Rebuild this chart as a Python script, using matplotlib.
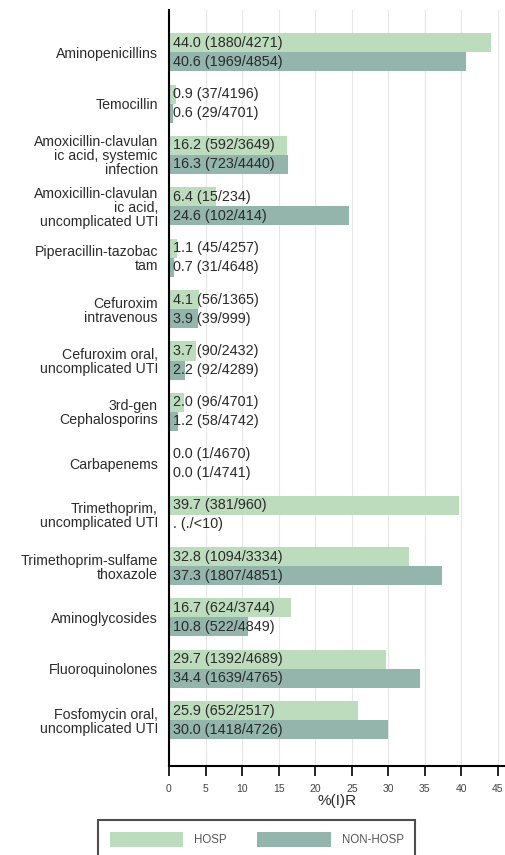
import numpy as np
import matplotlib.pyplot as plt
from matplotlib.patches import Patch

plt.rcParams['font.family'] = ['Liberation Sans', 'DejaVu Sans']

categories = [
    'Aminopenicillins',
    'Temocillin',
    'Amoxicillin-clavulan\nic acid, systemic\ninfection',
    'Amoxicillin-clavulan\nic acid,\nuncomplicated UTI',
    'Piperacillin-tazobac\ntam',
    'Cefuroxim\nintravenous',
    'Cefuroxim oral,\nuncomplicated UTI',
    '3rd-gen\nCephalosporins',
    'Carbapenems',
    'Trimethoprim,\nuncomplicated UTI',
    'Trimethoprim-sulfame\nthoxazole',
    'Aminoglycosides',
    'Fluoroquinolones',
    'Fosfomycin oral,\nuncomplicated UTI',
]

hosp_pct = [44.0, 0.9, 16.2, 6.4, 1.1, 4.1, 3.7, 2.0, 0.0, 39.7, 32.8, 16.7, 29.7, 25.9]
hosp_n = ['1880/4271', '37/4196', '592/3649', '15/234', '45/4257', '56/1365', '90/2432',
          '96/4701', '1/4670', '381/960', '1094/3334', '624/3744', '1392/4689', '652/2517']

nonhosp_pct = [40.6, 0.6, 16.3, 24.6, 0.7, 3.9, 2.2, 1.2, 0.0, np.nan, 37.3, 10.8, 34.4, 30.0]
nonhosp_n = ['1969/4854', '29/4701', '723/4440', '102/414', '31/4648', '39/999', '92/4289',
             '58/4742', '1/4741', './<10', '1807/4851', '522/4849', '1639/4765', '1418/4726']

c_hosp = '#bddcbd'
c_nonhosp = '#93b5ab'

fig = plt.figure(figsize=(5.06, 8.55), dpi=100)
ax = fig.add_axes([169 / 506, 1 - 766 / 855, 1 - 169 / 506, (766 - 10) / 855])

y = np.arange(len(categories))
h = 0.37

def label(v, n):
    if np.isnan(v):
        return f'. ({n})'
    return f'{v:.1f} ({n})'

ax.barh(y - h / 2, np.nan_to_num(hosp_pct), height=h, color=c_hosp, zorder=2)
ax.barh(y + h / 2, np.nan_to_num(nonhosp_pct), height=h, color=c_nonhosp, zorder=2)

for i in range(len(categories)):
    ax.text(0.6, y[i] - h / 2, label(hosp_pct[i], hosp_n[i]), va='center', ha='left',
            fontsize=10.4, color='#2b2b2b', zorder=3)
    ax.text(0.6, y[i] + h / 2, label(nonhosp_pct[i], nonhosp_n[i]), va='center', ha='left',
            fontsize=10.4, color='#2b2b2b', zorder=3)

ax.set_yticks(y)
ax.set_yticklabels(categories, fontsize=10.2, color='#2b2b2b', linespacing=1.0,
                   multialignment='right')
ax.tick_params(axis='y', length=0, pad=8)
ax.set_ylim(len(categories) - 1 + 0.89, -0.82)

ax.set_xlim(0, 46.1)
ax.set_xticks(np.arange(0, 50, 5))
ax.tick_params(axis='x', length=7, width=1.2, labelsize=7.5, labelcolor='#444444', pad=6)
ax.grid(axis='x', color='#e6e6e6', linewidth=0.8, zorder=0)
ax.set_xlabel('%(I)R', fontsize=11, color='#2b2b2b', labelpad=0)

for s in ['top', 'right']:
    ax.spines[s].set_visible(False)
ax.spines['left'].set_linewidth(1.5)
ax.spines['bottom'].set_linewidth(1.5)

# legend box runs off the bottom edge of the figure
handles = [Patch(facecolor=c_hosp, edgecolor='none', label='HOSP'),
           Patch(facecolor=c_nonhosp, edgecolor='none', label='NON-HOSP')]
leg = fig.legend(handles=handles, loc='upper left', bbox_to_anchor=(98 / 506, 1 - 820 / 855),
                 ncol=2, fontsize=8.3, handlelength=6.35, handleheight=1.74,
                 handletextpad=0.95, columnspacing=2.7, borderpad=1.0, borderaxespad=0,
                 frameon=True, fancybox=False)
leg.get_frame().set_edgecolor('#222222')
leg.get_frame().set_linewidth(1.5)
for t in leg.get_texts():
    t.set_color('#555555')

fig.savefig('out.png', dpi=100)
